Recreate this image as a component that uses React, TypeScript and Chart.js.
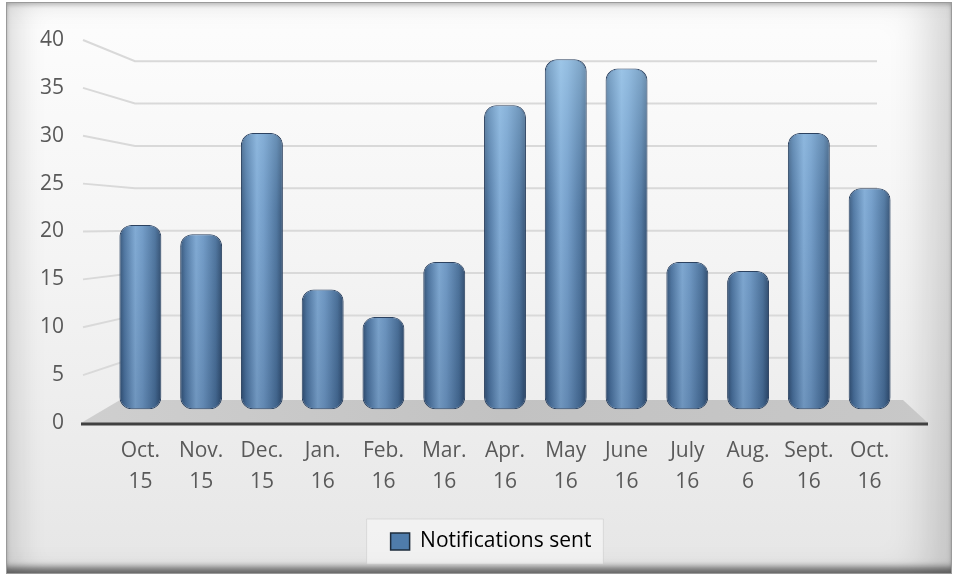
import React, { useEffect, useRef } from "react";
import { Chart, registerables } from "chart.js";

Chart.register(...registerables);

const categories: string[][] = [
  ["Oct.", "15"], ["Nov.", "15"], ["Dec.", "15"], ["Jan.", "16"], ["Feb.", "16"],
  ["Mar.", "16"], ["Apr.", "16"], ["May", "16"], ["June", "16"], ["July", "16"],
  ["Aug.", "6"], ["Sept.", "16"], ["Oct.", "16"],
];
const notificationsSent: number[] = [20, 19, 30, 13, 10, 16, 33, 38, 37, 16, 15, 30, 24];
const seriesName = "Notifications sent";
const tickValues: number[] = [0, 5, 10, 15, 20, 25, 30, 35, 40];

const FONT = "'Open Sans', 'DejaVu Sans', sans-serif";
const TEXT = "#595959";
const BAR_PCT = 0.69;
const LEGEND_SHIFT = 41;

const sceneryPlugin = {
  id: "scenery",
  afterLayout(chart: any) {
    const lg = chart.legend;
    if (!lg) return;
    lg.left += LEGEND_SHIFT;
    lg.right += LEGEND_SHIFT;
    (lg.legendHitBoxes || []).forEach((h: any) => {
      h.left += LEGEND_SHIFT;
    });
  },
  beforeDatasetsDraw(chart: any) {
    const { ctx, chartArea, scales } = chart;
    const yl = scales.yl;
    const yg = scales.yg;
    const L = chartArea.left;
    const R = chartArea.right;
    ctx.save();
    ctx.strokeStyle = "#d9d9d9";
    ctx.lineWidth = 2;
    tickValues.forEach((v) => {
      if (v === 0) return;
      ctx.beginPath();
      ctx.moveTo(L - 27, yl.getPixelForValue(v));
      ctx.lineTo(L + 25, yg.getPixelForValue(v));
      ctx.lineTo(R - 23, yg.getPixelForValue(v));
      ctx.stroke();
    });
    const front = yl.getPixelForValue(0);
    const back = yg.getPixelForValue(0);
    const g = ctx.createLinearGradient(L - 29, 0, R + 28, 0);
    g.addColorStop(0, "#cfcfcf");
    g.addColorStop(0.5, "#c2c2c2");
    g.addColorStop(1, "#c8c8c8");
    ctx.fillStyle = g;
    ctx.beginPath();
    ctx.moveTo(L - 29, front);
    ctx.lineTo(L + 10, back);
    ctx.lineTo(R + 3, back);
    ctx.lineTo(R + 28, front);
    ctx.closePath();
    ctx.fill();
    ctx.strokeStyle = "#404040";
    ctx.lineWidth = 3;
    ctx.beginPath();
    ctx.moveTo(L - 29, front + 1);
    ctx.lineTo(R + 28, front + 1);
    ctx.stroke();
    ctx.restore();
  },
  afterDatasetsDraw(chart: any) {
    const { ctx, chartArea } = chart;
    const meta = chart.getDatasetMeta(0);
    ctx.save();
    meta.data.forEach((bar: any) => {
      const { x, y, base, width } = bar.getProps(["x", "y", "base", "width"], true);
      const left = x - width / 2;
      const r = Math.min(12, width / 2);
      ctx.beginPath();
      (ctx as any).roundRect(left + 1, y + 1, width - 2, base - y - 2, r);
      const g = ctx.createLinearGradient(0, chartArea.top, 0, chartArea.bottom);
      g.addColorStop(0, "rgba(190,230,255,0.55)");
      g.addColorStop(0.45, "rgba(160,205,240,0.12)");
      g.addColorStop(1, "rgba(0,20,50,0.14)");
      ctx.fillStyle = g;
      ctx.fill();
    });
    ctx.restore();
  },
  beforeDraw(chart: any) {
    const { ctx, legend } = chart;
    if (!legend || !legend.legendHitBoxes || !legend.legendHitBoxes.length) return;
    const hb = legend.legendHitBoxes[0];
    ctx.save();
    ctx.fillStyle = "rgba(250,250,250,0.55)";
    ctx.strokeStyle = "rgba(200,200,200,0.5)";
    ctx.lineWidth = 1;
    ctx.beginPath();
    ctx.rect(hb.left - 24, hb.top - 12, hb.width + 36, hb.height + 24);
    ctx.fill();
    ctx.stroke();
    ctx.restore();
  },
};

export default function App() {
  const canvasRef = useRef<HTMLCanvasElement | null>(null);

  useEffect(() => {
    const canvas = canvasRef.current;
    if (!canvas) return;
    const chart = new Chart(canvas, {
      type: "bar",
      data: {
        labels: categories,
        datasets: [
          {
            label: seriesName,
            data: notificationsSent,
            yAxisID: "y",
            xAxisID: "x",
            barPercentage: BAR_PCT,
            categoryPercentage: 1,
            borderRadius: 12,
            borderSkipped: false,
            borderWidth: 1,
            borderColor: "#2c4260",
            backgroundColor: (c: any) => {
              const ch = c.chart;
              const sx = ch.scales && ch.scales.x;
              if (!ch.chartArea || !sx || c.dataIndex === undefined) return "#4f79a6";
              const cx = sx.getPixelForValue(c.dataIndex);
              const step = sx.getPixelForTick(1) - sx.getPixelForTick(0);
              const half = (step * BAR_PCT) / 2;
              const g = ch.ctx.createLinearGradient(cx - half, 0, cx + half, 0);
              g.addColorStop(0, "#2f4b6d");
              g.addColorStop(0.12, "#4a709b");
              g.addColorStop(0.38, "#7fa8d2");
              g.addColorStop(0.55, "#6f98c4");
              g.addColorStop(0.85, "#486d96");
              g.addColorStop(1, "#2b4566");
              return g;
            },
          },
        ],
      },
      options: {
        responsive: false,
        animation: false,
        devicePixelRatio: 1,
        layout: { padding: { top: 40, right: 57, bottom: 15, left: 0 } },
        plugins: {
          tooltip: { enabled: false },
          legend: {
            position: "bottom",
            labels: {
              font: { family: FONT, size: 21 },
              color: "#404040",
              boxWidth: 19,
              boxHeight: 17,
              padding: 12,
              generateLabels: () => [
                {
                  text: seriesName,
                  fillStyle: "#4f7cab",
                  strokeStyle: "#1e2c3c",
                  lineWidth: 1.5,
                  hidden: false,
                  datasetIndex: 0,
                },
              ],
            },
          },
        },
        scales: {
          x: {
            type: "category",
            position: "bottom",
            grid: { display: false, drawTicks: false },
            border: { display: false },
            ticks: {
              color: TEXT,
              font: { family: FONT, size: 21, lineHeight: 1.5 },
              padding: 12,
              maxRotation: 0,
              autoSkip: false,
            },
            afterFit: (s: any) => {
              s.height = 96;
            },
          },
          y: {
            display: false,
            min: -1.5,
            max: 40.1,
          },
          yg: {
            display: false,
            min: -2.7,
            max: 42.5,
          },
          yl: {
            position: "left",
            min: 0,
            max: 40,
            grid: { display: false, drawTicks: false },
            border: { display: false },
            ticks: {
              stepSize: 5,
              color: TEXT,
              font: { family: FONT, size: 21 },
              padding: 46,
            },
            afterFit: (s: any) => {
              s.width = 110;
              s.paddingTop = 13;
              s.paddingBottom = 13;
            },
          },
        },
      },
      plugins: [sceneryPlugin],
    } as any);
    return () => chart.destroy();
  }, []);

  return (
    <div style={{ position: "fixed", left: 0, top: 0, width: 957, height: 577, background: "#ffffff" }}>
      <div
        style={{
          position: "absolute",
          left: 6,
          top: 2,
          width: 946,
          height: 572,
          boxSizing: "border-box",
          border: "1px solid #9a9a9a",
          background: "linear-gradient(to bottom, #fdfdfd 0%, #f4f4f4 45%, #e6e6e6 100%)",
          boxShadow:
            "inset 22px 0 30px -12px rgba(0,0,0,0.14), inset -34px 0 40px -12px rgba(0,0,0,0.16), inset 0 -9px 6px -3px rgba(0,0,0,0.5), inset 0 4px 4px -2px rgba(0,0,0,0.2)",
        }}
      />
      <canvas
        ref={canvasRef}
        width={957}
        height={577}
        style={{ position: "absolute", left: 0, top: 0, width: 957, height: 577 }}
      />
    </div>
  );
}
